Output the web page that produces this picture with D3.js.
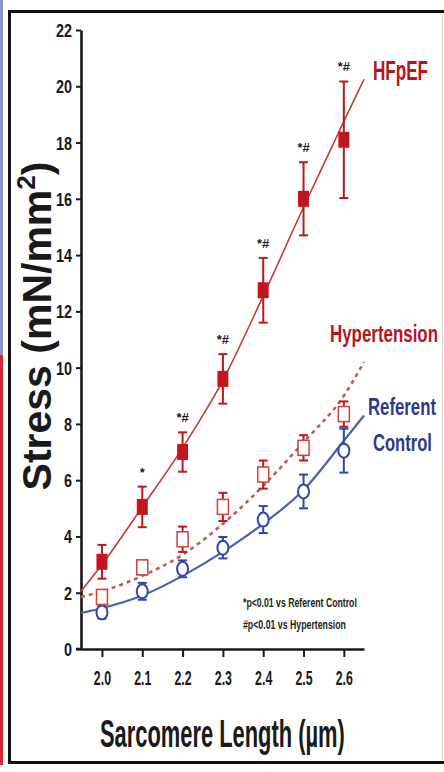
<!DOCTYPE html>
<html>
<head>
<meta charset="utf-8">
<script src="https://cdn.jsdelivr.net/npm/d3@7"></script>
<style>
  html, body { margin: 0; padding: 0; background: #fff; }
  svg { display: block; font-family: "Liberation Sans", Arial, Helvetica, sans-serif; }
</style>
</head>
<body>
<svg id="chart" width="444" height="772"></svg>
<script>
// Sarcomere lengths (µm) at which stress was measured
const lengths = [2.0, 2.1, 2.2, 2.3, 2.4, 2.5, 2.6];

// Mean passive stress (mN/mm²) and error per group
const hfpef       = [3.1, 5.05, 7.0, 9.6, 12.75, 16.0, 18.1];
const hfpefErr    = [0.6, 0.72, 0.7, 0.88, 1.15, 1.3, 2.07];
const hypertension    = [1.85, 2.9, 3.9, 5.05, 6.2, 7.15, 8.35];
const hypertensionErr = [0.25, 0.25, 0.45, 0.5, 0.5, 0.45, 0.45];
const referent    = [1.3, 2.05, 2.85, 3.6, 4.6, 5.6, 7.05];
const referentErr = [0.22, 0.3, 0.3, 0.38, 0.48, 0.6, 0.78];

// Significance marks above the HFpEF points
const hfpefMarks = ["", "*", "*#", "*#", "*#", "*#", "*#"];

// Fitted curves, sampled along the x range
const fitLengths     = [1.948, 2.0, 2.1, 2.2, 2.3, 2.4, 2.5, 2.6, 2.65];
const hfpefFit       = [2.05, 3.0, 5.05, 7.15, 9.55, 12.55, 15.7, 18.75, 20.25];
const hypertensionFit= [1.85, 2.05, 2.6, 3.35, 4.45, 5.8, 7.35, 9.0, 10.2];
const referentFit    = [1.28, 1.45, 1.9, 2.6, 3.45, 4.45, 5.65, 7.4, 8.3];

// Tick values
const xTicks = [2.0, 2.1, 2.2, 2.3, 2.4, 2.5, 2.6];
const yTicks = [0, 2, 4, 6, 8, 10, 12, 14, 16, 18, 20, 22];

const RED = "#c1161f", RED_LINE = "#c23b36", RED_DASH = "#c45a58";
const BLUE = "#2f48a6", BLUE_LINE = "#4d62ad", BLUE_TEXT = "#2b3a8f";

const svg = d3.select("#chart");

// Outer strip and frame
svg.append("rect").attr("x", 0).attr("y", 0).attr("width", 3).attr("height", 355).attr("fill", "#8d92cf");
svg.append("rect").attr("x", 0).attr("y", 355).attr("width", 3).attr("height", 410).attr("fill", "#d9262b");
svg.append("rect").attr("x", 9.5).attr("y", 11.5).attr("width", 450).attr("height", 751)
  .attr("fill", "#fff").attr("stroke", "#111").attr("stroke-width", 3);
svg.append("line").attr("x1", 442.5).attr("x2", 442.5).attr("y1", 13).attr("y2", 761)
  .attr("stroke", "#d8d8d8").attr("stroke-width", 1);

const x = d3.scaleLinear().domain([1.948, 2.65]).range([81, 364]);
const y = d3.scaleLinear().domain([0, 22]).range([649, 30]);

// Axes
const yAxis = svg.append("g").attr("transform", "translate(81,0)")
  .call(d3.axisLeft(y).tickValues(yTicks).tickSize(5).tickSizeOuter(0).tickPadding(4));
const xAxis = svg.append("g").attr("transform", "translate(0,649)")
  .call(d3.axisBottom(x).tickValues(xTicks).tickSize(8).tickSizeOuter(0).tickPadding(12).tickFormat(d3.format(".1f")));
[yAxis, xAxis].forEach(g => {
  g.select(".domain").attr("stroke", "#1a1a1a").attr("stroke-width", 2.6);
  g.selectAll(".tick line").attr("stroke", "#1a1a1a").attr("stroke-width", 2);
});
// extend the x axis line slightly left of the y axis
svg.append("line").attr("x1", 76).attr("x2", 82).attr("y1", 649).attr("y2", 649)
  .attr("stroke", "#1a1a1a").attr("stroke-width", 2.6);

yAxis.selectAll(".tick text")
  .attr("font-size", 18).attr("font-weight", "bold").attr("fill", "#1a1a1a")
  .attr("x", null).attr("dy", "0.36em")
  .attr("transform", "translate(-9,0) scale(0.8,1)");
xAxis.selectAll(".tick text")
  .attr("font-size", 20).attr("font-weight", "bold").attr("fill", "#1a1a1a")
  .attr("y", null).attr("dy", null)
  .attr("transform", "translate(0,36) scale(0.62,1)");

// Fitted curves
const fitLine = d3.line().x((d, i) => x(fitLengths[i])).y(d => y(d)).curve(d3.curveMonotoneX);
svg.append("path").datum(referentFit).attr("d", fitLine)
  .attr("fill", "none").attr("stroke", BLUE_LINE).attr("stroke-width", 2.2);
svg.append("path").datum(hypertensionFit).attr("d", fitLine)
  .attr("fill", "none").attr("stroke", RED_DASH).attr("stroke-width", 2.6).attr("stroke-dasharray", "4,4");
svg.append("path").datum(hfpefFit).attr("d", fitLine)
  .attr("fill", "none").attr("stroke", RED_LINE).attr("stroke-width", 1.6);

// Error bars
function errorBars(values, errs, color) {
  const g = svg.append("g").attr("stroke", color).attr("stroke-width", 2);
  lengths.forEach((L, i) => {
    const cx = x(L), top = y(values[i] + errs[i]), bot = y(values[i] - errs[i]);
    g.append("line").attr("x1", cx).attr("x2", cx).attr("y1", top).attr("y2", bot);
    g.append("line").attr("x1", cx - 4.5).attr("x2", cx + 4.5).attr("y1", top).attr("y2", top);
    g.append("line").attr("x1", cx - 4.5).attr("x2", cx + 4.5).attr("y1", bot).attr("y2", bot);
  });
}
errorBars(referent, referentErr, BLUE);
errorBars(hypertension, hypertensionErr, RED);
errorBars(hfpef, hfpefErr, RED);

// Markers
svg.append("g").selectAll("ellipse").data(referent).join("ellipse")
  .attr("cx", (d, i) => x(lengths[i])).attr("cy", d => y(d))
  .attr("rx", 5.5).attr("ry", 7)
  .attr("fill", "#fff").attr("stroke", BLUE).attr("stroke-width", 2);
svg.append("g").selectAll("rect").data(hypertension).join("rect")
  .attr("x", (d, i) => x(lengths[i]) - 5.5).attr("y", d => y(d) - 7.5)
  .attr("width", 11).attr("height", 15)
  .attr("fill", "#fff").attr("stroke", "#d0403c").attr("stroke-width", 1.5);
svg.append("g").selectAll("rect").data(hfpef).join("rect")
  .attr("x", (d, i) => x(lengths[i]) - 5.5).attr("y", d => y(d) - 8)
  .attr("width", 11).attr("height", 16)
  .attr("fill", RED);

// Significance marks
svg.append("g").selectAll("text").data(hfpefMarks).join("text")
  .attr("x", (d, i) => x(lengths[i]))
  .attr("y", (d, i) => y(hfpef[i] + hfpefErr[i]) - 10)
  .attr("text-anchor", "middle")
  .attr("font-size", 13).attr("font-weight", "bold").attr("fill", "#1a1a1a")
  .text(d => d);

// Bold label squeezed horizontally to a given width, anchored at its left edge
function label(txt, xPos, yPos, size, width, color) {
  const t = svg.append("text")
    .attr("font-size", size).attr("font-weight", "bold").attr("fill", color)
    .text(txt);
  const natural = t.node().getComputedTextLength();
  t.attr("transform", `translate(${xPos},${yPos}) scale(${width / natural},1)`);
  return t;
}
label("HFpEF", 373, 80, 28, 55, "#b8141c");
label("Hypertension", 330, 342, 24, 108, "#b8141c");
label("Referent", 368, 415, 24, 68, BLUE_TEXT);
label("Control", 373, 451, 24, 59, BLUE_TEXT);

// Footnotes
label("*p<0.01 vs Referent Control", 243, 607, 13, 114, "#222");
label("#p<0.01 vs Hypertension", 243, 629, 13, 103, "#222");

// Axis titles
label("Sarcomere Length (µm)", 100, 747, 39, 245, "#1a1a1a");

const yTitle = svg.append("text")
  .attr("transform", "translate(51,326) rotate(-90)")
  .attr("text-anchor", "middle")
  .attr("font-size", 41).attr("font-weight", "bold").attr("fill", "#1a1a1a");
yTitle.append("tspan").text("Stress (mN/mm");
yTitle.append("tspan").attr("font-size", 26).attr("dy", -16).text("2");
yTitle.append("tspan").attr("dy", 16).text(")");
</script>
</body>
</html>
